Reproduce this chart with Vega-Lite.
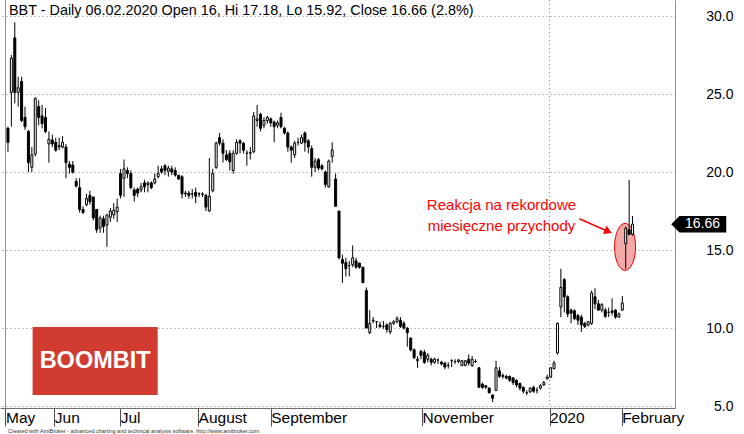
{
  "$schema": "https://vega.github.io/schema/vega-lite/v6.json",
  "width": 675,
  "height": 408,
  "autosize": {"type": "none"},
  "padding": {"left": 0, "top": 0, "right": 69, "bottom": 26},
  "background": "white",
  "config": {"view": {"stroke": null}, "font": "Liberation Sans"},
  "layer": [
    {
      "data": {"values": [{"x": -0.72}]},
      "mark": {"type": "rule", "color": "#909090", "strokeWidth": 1},
      "encoding": {"x": {"field": "x", "type": "quantitative", "title": null}}
    },
    {
      "data": {"values": [{"x": 158.7}]},
      "mark": {"type": "rule", "color": "#808080", "strokeWidth": 1, "strokeDash": [1, 3]},
      "encoding": {"x": {"field": "x", "type": "quantitative", "title": null}}
    },
    {
      "data": {"values": [{"i": 180.8, "v": 15.2}]},
      "mark": {"type": "point", "shape": "M-0.447,0A0.447,1 0 1,0 0.447,0A0.447,1 0 1,0 -0.447,0Z", "size": 2209, "filled": true, "fill": "#f4a8a8", "stroke": "#e00000", "strokeWidth": 1, "opacity": 1},
      "encoding": {"x": {"field": "i", "type": "quantitative", "title": null}, "y": {"field": "v", "type": "quantitative", "title": null}}
    },
    {
      "data": {"name": "candles", "values": [
{"i":0,"o":22.8,"h":22.9,"l":21.3,"c":21.9},
{"i":1,"o":25.1,"h":27.5,"l":22.9,"c":27.3},
{"i":2,"o":28.6,"h":29.6,"l":24.4,"c":25.1},
{"i":3,"o":25.1,"h":26.1,"l":24.2,"c":25.4},
{"i":4,"o":25.8,"h":26.1,"l":23.2,"c":23.3},
{"i":5,"o":23.5,"h":24.2,"l":22.7,"c":22.9},
{"i":6,"o":22.6,"h":22.7,"l":20.0,"c":20.6},
{"i":7,"o":20.3,"h":21.6,"l":20.0,"c":21.1},
{"i":8,"o":21.15,"h":24.8,"l":21.0,"c":24.7},
{"i":9,"o":24.2,"h":24.6,"l":23.0,"c":23.5},
{"i":10,"o":23.6,"h":24.3,"l":22.8,"c":23.1},
{"i":11,"o":23.5,"h":24.1,"l":22.5,"c":22.6},
{"i":12,"o":21.8,"h":22.6,"l":20.6,"c":22.1},
{"i":13,"o":22.05,"h":22.4,"l":21.6,"c":21.8},
{"i":14,"o":21.9,"h":22.2,"l":21.3,"c":21.4},
{"i":15,"o":21.6,"h":22.2,"l":21.4,"c":21.7},
{"i":16,"o":21.6,"h":22.3,"l":21.5,"c":21.9},
{"i":17,"o":21.6,"h":21.8,"l":19.6,"c":20.6},
{"i":18,"o":20.5,"h":20.7,"l":19.9,"c":20.3},
{"i":19,"o":20.45,"h":20.7,"l":19.9,"c":20.0},
{"i":20,"o":19.4,"h":19.6,"l":19.0,"c":19.1},
{"i":21,"o":19.0,"h":19.6,"l":17.4,"c":17.6},
{"i":22,"o":17.6,"h":17.8,"l":17.3,"c":17.4},
{"i":23,"o":17.9,"h":18.6,"l":17.8,"c":18.3},
{"i":24,"o":18.5,"h":18.8,"l":17.9,"c":18.1},
{"i":25,"o":18.4,"h":18.4,"l":16.9,"c":17.05},
{"i":26,"o":17.6,"h":17.6,"l":16.1,"c":16.3},
{"i":27,"o":16.4,"h":17.2,"l":16.1,"c":17.05},
{"i":28,"o":17.0,"h":17.2,"l":16.1,"c":16.5},
{"i":29,"o":16.6,"h":17.3,"l":15.2,"c":17.25},
{"i":30,"o":17.1,"h":17.7,"l":16.8,"c":17.5},
{"i":31,"o":17.25,"h":18.0,"l":17.0,"c":17.55},
{"i":32,"o":17.45,"h":18.3,"l":16.8,"c":17.75},
{"i":33,"o":19.9,"h":20.2,"l":18.3,"c":18.5},
{"i":34,"o":19.6,"h":20.8,"l":18.4,"c":20.2},
{"i":35,"o":20.1,"h":20.3,"l":19.6,"c":19.9},
{"i":36,"o":19.9,"h":20.1,"l":18.9,"c":19.0},
{"i":37,"o":18.85,"h":19.0,"l":18.1,"c":18.5},
{"i":38,"o":18.9,"h":19.0,"l":18.4,"c":18.65},
{"i":39,"o":18.85,"h":19.3,"l":18.7,"c":19.05},
{"i":40,"o":19.3,"h":19.5,"l":18.7,"c":19.05},
{"i":41,"o":19.2,"h":19.4,"l":18.7,"c":19.3},
{"i":42,"o":19.3,"h":19.4,"l":18.9,"c":19.0},
{"i":43,"o":19.3,"h":19.9,"l":19.2,"c":19.55},
{"i":44,"o":19.7,"h":20.4,"l":19.6,"c":19.9},
{"i":45,"o":20.2,"h":20.4,"l":19.9,"c":20.0},
{"i":46,"o":20.4,"h":20.5,"l":19.8,"c":20.1},
{"i":47,"o":20.05,"h":20.4,"l":19.7,"c":20.25},
{"i":48,"o":20.2,"h":20.4,"l":19.8,"c":20.0},
{"i":49,"o":20.1,"h":20.3,"l":19.7,"c":19.8},
{"i":50,"o":19.8,"h":19.8,"l":19.5,"c":19.55},
{"i":51,"o":19.7,"h":19.8,"l":18.3,"c":18.6},
{"i":52,"o":18.65,"h":18.8,"l":18.4,"c":18.6},
{"i":53,"o":18.65,"h":18.8,"l":18.3,"c":18.5},
{"i":54,"o":18.6,"h":18.9,"l":18.3,"c":18.6},
{"i":55,"o":18.7,"h":19.0,"l":18.0,"c":18.45},
{"i":56,"o":18.6,"h":18.7,"l":18.4,"c":18.6},
{"i":57,"o":18.55,"h":18.7,"l":18.4,"c":18.6},
{"i":58,"o":18.5,"h":18.6,"l":17.5,"c":17.75},
{"i":59,"o":17.5,"h":20.9,"l":17.45,"c":18.45},
{"i":60,"o":18.8,"h":20.2,"l":18.7,"c":19.9},
{"i":61,"o":20.3,"h":21.95,"l":20.2,"c":21.85},
{"i":62,"o":22.2,"h":22.5,"l":21.7,"c":21.85},
{"i":63,"o":21.85,"h":22.1,"l":20.6,"c":21.2},
{"i":64,"o":21.1,"h":21.4,"l":20.7,"c":20.8},
{"i":65,"o":21.2,"h":21.4,"l":20.1,"c":20.65},
{"i":66,"o":20.1,"h":21.4,"l":19.9,"c":21.2},
{"i":67,"o":21.2,"h":22.1,"l":21.1,"c":21.9},
{"i":68,"o":22.0,"h":22.1,"l":21.2,"c":21.85},
{"i":69,"o":21.85,"h":21.9,"l":21.2,"c":21.4},
{"i":70,"o":21.2,"h":21.4,"l":20.4,"c":21.2},
{"i":71,"o":21.2,"h":21.6,"l":20.8,"c":21.25},
{"i":72,"o":21.3,"h":23.85,"l":21.2,"c":23.6},
{"i":73,"o":23.3,"h":24.3,"l":22.9,"c":23.4},
{"i":74,"o":23.7,"h":23.8,"l":22.6,"c":22.8},
{"i":75,"o":23.0,"h":23.5,"l":22.8,"c":23.3},
{"i":76,"o":23.3,"h":23.6,"l":23.1,"c":23.5},
{"i":77,"o":23.4,"h":23.5,"l":22.9,"c":23.15},
{"i":78,"o":23.2,"h":23.3,"l":21.9,"c":22.9},
{"i":79,"o":23.0,"h":23.3,"l":22.8,"c":23.15},
{"i":80,"o":23.5,"h":23.8,"l":22.8,"c":22.9},
{"i":81,"o":22.8,"h":22.9,"l":22.4,"c":22.5},
{"i":82,"o":22.5,"h":22.6,"l":21.3,"c":21.6},
{"i":83,"o":21.6,"h":21.7,"l":20.6,"c":21.4},
{"i":84,"o":21.1,"h":22.0,"l":20.9,"c":21.85},
{"i":85,"o":21.9,"h":22.2,"l":21.7,"c":21.9},
{"i":86,"o":21.85,"h":22.4,"l":21.8,"c":22.2},
{"i":87,"o":22.5,"h":22.6,"l":21.3,"c":21.9},
{"i":88,"o":22.0,"h":22.1,"l":21.2,"c":21.6},
{"i":89,"o":21.5,"h":21.7,"l":19.7,"c":20.3},
{"i":90,"o":20.3,"h":20.9,"l":20.0,"c":20.7},
{"i":91,"o":20.8,"h":20.9,"l":20.1,"c":20.25},
{"i":92,"o":20.4,"h":20.5,"l":20.1,"c":20.2},
{"i":93,"o":20.0,"h":20.1,"l":19.0,"c":19.2},
{"i":94,"o":19.05,"h":20.8,"l":19.0,"c":20.7},
{"i":95,"o":21.0,"h":21.9,"l":20.6,"c":21.4},
{"i":96,"o":19.55,"h":19.9,"l":17.8,"c":17.8},
{"i":97,"o":17.5,"h":17.5,"l":14.4,"c":14.5},
{"i":98,"o":14.4,"h":14.7,"l":12.9,"c":14.15},
{"i":99,"o":14.2,"h":14.5,"l":13.3,"c":13.8},
{"i":100,"o":14.0,"h":14.3,"l":13.3,"c":14.0},
{"i":101,"o":14.05,"h":15.3,"l":13.9,"c":14.5},
{"i":102,"o":14.3,"h":14.5,"l":13.8,"c":13.9},
{"i":103,"o":14.15,"h":14.2,"l":13.8,"c":13.9},
{"i":104,"o":13.9,"h":13.9,"l":12.9,"c":12.9},
{"i":105,"o":12.4,"h":12.6,"l":10.0,"c":10.0},
{"i":106,"o":9.7,"h":11.15,"l":9.6,"c":10.3},
{"i":107,"o":10.45,"h":10.7,"l":10.3,"c":10.5},
{"i":108,"o":10.4,"h":10.45,"l":10.0,"c":10.4},
{"i":109,"o":10.2,"h":10.4,"l":10.0,"c":10.1},
{"i":110,"o":10.1,"h":10.45,"l":9.95,"c":10.1},
{"i":111,"o":10.2,"h":10.3,"l":9.7,"c":9.9},
{"i":112,"o":9.75,"h":10.4,"l":9.6,"c":10.3},
{"i":113,"o":10.3,"h":10.5,"l":10.2,"c":10.4},
{"i":114,"o":10.4,"h":10.75,"l":10.3,"c":10.6},
{"i":115,"o":10.5,"h":10.7,"l":10.0,"c":10.1},
{"i":116,"o":10.3,"h":10.45,"l":9.9,"c":10.0},
{"i":117,"o":10.0,"h":10.05,"l":8.8,"c":9.7},
{"i":118,"o":9.35,"h":9.4,"l":8.5,"c":8.6},
{"i":119,"o":8.6,"h":8.7,"l":8.0,"c":8.1},
{"i":120,"o":7.9,"h":8.2,"l":7.45,"c":8.0},
{"i":121,"o":8.5,"h":8.6,"l":8.0,"c":8.25},
{"i":122,"o":8.45,"h":8.6,"l":7.7,"c":7.8},
{"i":123,"o":8.0,"h":8.4,"l":7.8,"c":8.25},
{"i":124,"o":8.0,"h":8.1,"l":7.6,"c":7.8},
{"i":125,"o":7.8,"h":8.1,"l":7.7,"c":8.0},
{"i":126,"o":7.95,"h":8.05,"l":7.7,"c":7.95},
{"i":127,"o":7.8,"h":7.9,"l":7.6,"c":7.7},
{"i":128,"o":7.75,"h":7.8,"l":7.35,"c":7.5},
{"i":129,"o":7.6,"h":7.8,"l":7.4,"c":7.6},
{"i":130,"o":7.9,"h":8.0,"l":7.5,"c":7.9},
{"i":131,"o":7.85,"h":8.0,"l":7.7,"c":7.85},
{"i":132,"o":7.85,"h":8.0,"l":7.75,"c":7.95},
{"i":133,"o":7.6,"h":7.95,"l":7.55,"c":7.9},
{"i":134,"o":7.6,"h":7.95,"l":7.55,"c":7.9},
{"i":135,"o":8.0,"h":8.3,"l":7.6,"c":7.75},
{"i":136,"o":7.6,"h":8.2,"l":7.5,"c":8.0},
{"i":137,"o":7.85,"h":8.0,"l":7.75,"c":7.85},
{"i":138,"o":7.45,"h":7.5,"l":6.2,"c":6.2},
{"i":139,"o":6.4,"h":6.5,"l":6.1,"c":6.2},
{"i":140,"o":6.3,"h":6.35,"l":6.1,"c":6.2},
{"i":141,"o":6.15,"h":6.2,"l":5.8,"c":5.85},
{"i":142,"o":5.7,"h":5.75,"l":5.25,"c":5.5},
{"i":143,"o":6.0,"h":7.9,"l":5.95,"c":7.45},
{"i":144,"o":7.25,"h":7.5,"l":6.8,"c":6.9},
{"i":145,"o":6.95,"h":7.1,"l":6.75,"c":6.9},
{"i":146,"o":6.9,"h":7.0,"l":6.7,"c":6.8},
{"i":147,"o":6.9,"h":6.95,"l":6.55,"c":6.65},
{"i":148,"o":6.8,"h":6.85,"l":6.35,"c":6.5},
{"i":149,"o":6.65,"h":6.7,"l":6.2,"c":6.35},
{"i":150,"o":6.45,"h":6.5,"l":6.0,"c":6.15},
{"i":151,"o":6.2,"h":6.25,"l":5.8,"c":5.95},
{"i":152,"o":5.85,"h":6.0,"l":5.7,"c":5.85},
{"i":153,"o":5.9,"h":6.2,"l":5.85,"c":6.15},
{"i":154,"o":6.2,"h":6.3,"l":5.85,"c":5.95},
{"i":155,"o":6.0,"h":6.2,"l":5.8,"c":6.0},
{"i":156,"o":6.15,"h":6.4,"l":6.05,"c":6.3},
{"i":157,"o":6.35,"h":6.6,"l":6.3,"c":6.5},
{"i":158,"o":6.75,"h":7.0,"l":6.7,"c":6.85},
{"i":159,"o":6.85,"h":7.5,"l":6.8,"c":7.45},
{"i":160,"o":7.4,"h":7.9,"l":7.35,"c":7.75},
{"i":161,"o":8.4,"h":10.35,"l":8.3,"c":10.3},
{"i":162,"o":11.35,"h":13.8,"l":10.7,"c":12.6},
{"i":163,"o":13.1,"h":13.2,"l":11.0,"c":12.0},
{"i":164,"o":12.0,"h":12.1,"l":10.7,"c":10.9},
{"i":165,"o":11.15,"h":11.25,"l":10.3,"c":10.95},
{"i":166,"o":11.1,"h":11.2,"l":10.5,"c":10.6},
{"i":167,"o":10.8,"h":10.9,"l":10.2,"c":10.5},
{"i":168,"o":10.7,"h":10.85,"l":9.75,"c":10.2},
{"i":169,"o":10.3,"h":10.4,"l":10.0,"c":10.1},
{"i":170,"o":10.2,"h":10.45,"l":10.1,"c":10.4},
{"i":171,"o":10.3,"h":12.4,"l":10.2,"c":12.25},
{"i":172,"o":12.0,"h":12.55,"l":11.2,"c":11.55},
{"i":173,"o":11.55,"h":11.8,"l":11.1,"c":11.15},
{"i":174,"o":11.15,"h":11.6,"l":11.0,"c":11.5},
{"i":175,"o":11.15,"h":11.3,"l":10.65,"c":10.75},
{"i":176,"o":11.0,"h":11.3,"l":10.7,"c":11.0},
{"i":177,"o":11.1,"h":11.9,"l":10.8,"c":11.0},
{"i":178,"o":11.15,"h":11.2,"l":10.6,"c":10.7},
{"i":179,"o":10.7,"h":11.0,"l":10.65,"c":10.9},
{"i":180,"o":11.15,"h":12.05,"l":11.1,"c":11.6},
{"i":181,"o":15.4,"h":16.5,"l":13.8,"c":16.4},
{"i":182,"o":16.3,"h":19.5,"l":15.95,"c":16.0},
{"i":183,"o":16.0,"h":17.18,"l":15.92,"c":16.66}
      ]},
      "layer": [
        {
          "mark": {"type": "rule", "color": "#000000", "strokeWidth": 1},
          "encoding": {
            "x": {
              "field": "i", "type": "quantitative",
              "scale": {"domain": [-0.866, 193.97], "nice": false, "zero": false},
              "axis": {
                "title": null, "grid": false,
                "values": [-0.72, 13.6, 32.9, 55.7, 77.0, 121.3, 158.7, 179.8],
                "labelExpr": "datum.value < 0 ? 'May' : datum.value == 13.6 ? 'Jun' : datum.value == 32.9 ? 'Jul' : datum.value == 55.7 ? 'August' : datum.value == 77 ? 'September' : datum.value == 121.3 ? 'November' : datum.value == 158.7 ? '2020' : 'February'",
                "domainColor": "#707070", "tickColor": "#505050", "tickSize": 18,
                "labelAlign": "left", "labelBaseline": "top", "labelPadding": -16, "labelDx": 3,
                "labelFont": "Liberation Sans", "labelFontSize": 15.5, "labelColor": "#000000",
                "labelOverlap": false, "labelBound": false, "labelFlush": false
              }
            },
            "y": {
              "field": "l", "type": "quantitative",
              "scale": {"domain": [4.872, 31.026], "nice": false, "zero": false},
              "axis": {
                "orient": "right", "title": null, "values": [5, 10, 15, 20, 25, 30], "format": ".1f",
                "grid": true, "gridDash": [1, 3], "gridColor": "#808080",
                "ticks": false, "tickSize": 0, "labelPadding": 58, "labelAlign": "right",
                "labelFont": "Liberation Sans", "labelFontSize": 14, "labelColor": "#000000",
                "domainColor": "#909090"
              }
            },
            "y2": {"field": "h"}
          }
        },
        {
          "mark": {"type": "bar", "orient": "vertical", "width": 2, "stroke": "#000000", "strokeWidth": 1},
          "encoding": {
            "x": {"field": "i", "type": "quantitative", "title": null},
            "y": {"field": "o", "type": "quantitative", "title": null},
            "y2": {"field": "c"},
            "fill": {"condition": {"test": "datum.c < datum.o", "value": "#000000"}, "value": "#ffffff"}
          }
        }
      ]
    },
    {
      "data": {"values": [{"i": 167.4, "v": 17.0, "i2": 175.9, "v2": 16.19}]},
      "mark": {"type": "rule", "color": "#ff0000", "strokeWidth": 1.5},
      "encoding": {
        "x": {"field": "i", "type": "quantitative", "title": null},
        "y": {"field": "v", "type": "quantitative", "title": null},
        "x2": {"field": "i2"},
        "y2": {"field": "v2"}
      }
    },
    {
      "data": {"values": [{"i": 175.9, "v": 16.19}]},
      "mark": {"type": "point", "shape": "triangle-right", "size": 80, "filled": true, "fill": "#ff0000", "angle": 23, "opacity": 1},
      "encoding": {
        "x": {"field": "i", "type": "quantitative", "title": null},
        "y": {"field": "v", "type": "quantitative", "title": null}
      }
    },
    {
      "data": {"values": [
        {"t": "Reakcja na rekordowe", "i": 144.6, "v": 17.88},
        {"t": "miesięczne przychody", "i": 144.6, "v": 16.54}
      ]},
      "mark": {"type": "text", "color": "#ff0000", "font": "Liberation Sans", "fontSize": 15, "align": "center", "baseline": "middle"},
      "encoding": {
        "x": {"field": "i", "type": "quantitative", "title": null},
        "y": {"field": "v", "type": "quantitative", "title": null},
        "text": {"field": "t"}
      }
    },
    {
      "data": {"values": [{"i": 7.22, "i2": 43.87, "v": 10.06, "v2": 5.7}]},
      "mark": {"type": "rect", "color": "#d13b30"},
      "encoding": {
        "x": {"field": "i", "type": "quantitative", "title": null},
        "x2": {"field": "i2"},
        "y": {"field": "v", "type": "quantitative", "title": null},
        "y2": {"field": "v2"}
      }
    },
    {
      "data": {"values": [{"t": "BOOMBIT", "i": 25.54, "v": 7.88}]},
      "mark": {"type": "text", "color": "#ffffff", "font": "Liberation Sans", "fontSize": 23.5, "fontWeight": "bold", "align": "center", "baseline": "middle"},
      "encoding": {
        "x": {"field": "i", "type": "quantitative", "title": null},
        "y": {"field": "v", "type": "quantitative", "title": null},
        "text": {"field": "t"}
      }
    },
    {
      "data": {"values": [{"t": "BBT - Daily 06.02.2020 Open 16, Hi 17.18, Lo 15.92, Close 16.66 (2.8%)", "i": 0.3, "v": 30.32}]},
      "mark": {"type": "text", "color": "#000000", "font": "Liberation Sans", "fontSize": 14.4, "align": "left", "baseline": "middle"},
      "encoding": {
        "x": {"field": "i", "type": "quantitative", "title": null},
        "y": {"field": "v", "type": "quantitative", "title": null},
        "text": {"field": "t"}
      }
    },
    {
      "data": {"values": [{"t": "Created with AmiBroker - advanced charting and technical analysis software. http://www.amibroker.com", "i": 0.0, "v": 3.4}]},
      "mark": {"type": "text", "color": "#333333", "font": "Liberation Sans", "fontSize": 5.5, "align": "left", "baseline": "middle"},
      "encoding": {
        "x": {"field": "i", "type": "quantitative", "title": null},
        "y": {"field": "v", "type": "quantitative", "title": null},
        "text": {"field": "t"}
      }
    },
    {
      "data": {"values": [{"i": 202.4, "v": 16.65}]},
      "mark": {"type": "point", "shape": "M-1,0L-0.7,-0.304L1,-0.304L1,0.304L-0.7,0.304Z", "size": 3025, "filled": true, "fill": "#000000", "opacity": 1},
      "encoding": {
        "x": {"field": "i", "type": "quantitative", "title": null},
        "y": {"field": "v", "type": "quantitative", "title": null}
      }
    },
    {
      "data": {"values": [{"t": "16.66", "i": 203.5, "v": 16.65}]},
      "mark": {"type": "text", "color": "#ffffff", "font": "Liberation Sans", "fontSize": 14, "align": "center", "baseline": "middle"},
      "encoding": {
        "x": {"field": "i", "type": "quantitative", "title": null},
        "y": {"field": "v", "type": "quantitative", "title": null},
        "text": {"field": "t"}
      }
    }
  ]
}
